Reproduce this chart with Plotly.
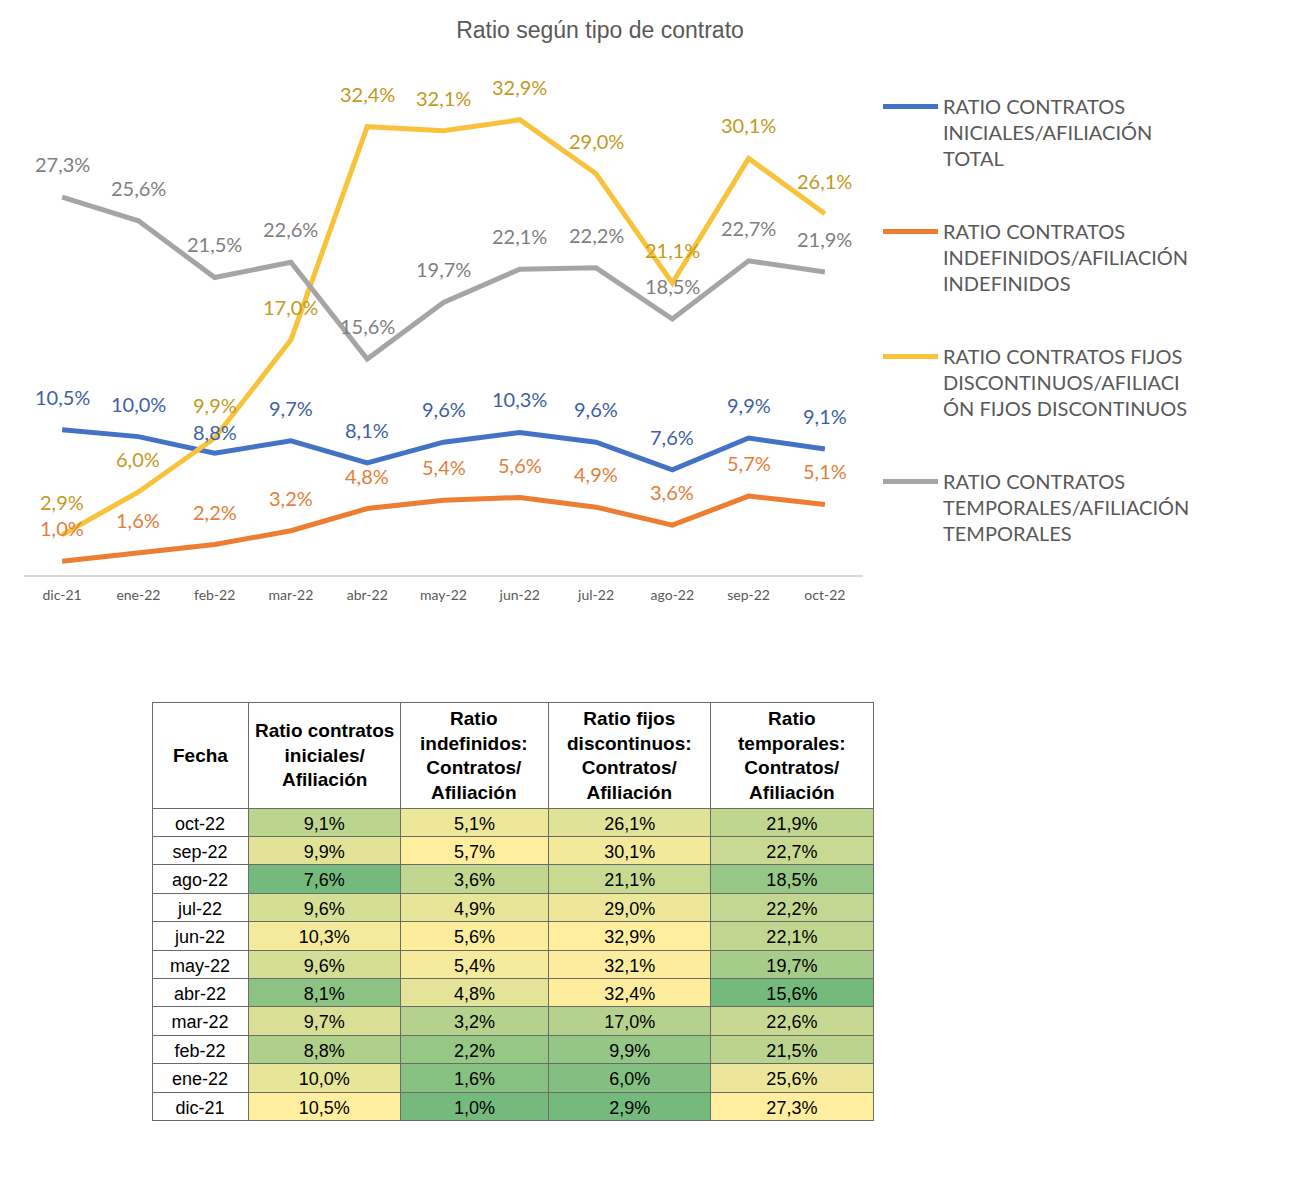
import plotly.graph_objects as go

W, H = 1308, 1186
OFF = 8  # page body margin


def px(x):
    return (x - OFF) / W


def py(y):
    return 1 - (y - OFF) / H


months = ["dic-21", "ene-22", "feb-22", "mar-22", "abr-22", "may-22",
          "jun-22", "jul-22", "ago-22", "sep-22", "oct-22"]
ratio_iniciales = [10.5, 10.0, 8.8, 9.7, 8.1, 9.6, 10.3, 9.6, 7.6, 9.9, 9.1]
ratio_indefinidos = [1.0, 1.6, 2.2, 3.2, 4.8, 5.4, 5.6, 4.9, 3.6, 5.7, 5.1]
ratio_fijos_disc = [2.9, 6.0, 9.9, 17.0, 32.4, 32.1, 32.9, 29.0, 21.1, 30.1, 26.1]
ratio_temporales = [27.3, 25.6, 21.5, 22.6, 15.6, 19.7, 22.1, 22.2, 18.5, 22.7, 21.9]

legend_names = [
    "RATIO CONTRATOS<br>INICIALES/AFILIACIÓN<br>TOTAL",
    "RATIO CONTRATOS<br>INDEFINIDOS/AFILIACIÓN<br>INDEFINIDOS",
    "RATIO CONTRATOS FIJOS<br>DISCONTINUOS/AFILIACI<br>ÓN FIJOS DISCONTINUOS",
    "RATIO CONTRATOS<br>TEMPORALES/AFILIACIÓN<br>TEMPORALES",
]
table_headers = [
    "Fecha",
    "Ratio contratos<br>iniciales/<br>Afiliación",
    "Ratio<br>indefinidos:<br>Contratos/<br>Afiliación",
    "Ratio fijos<br>discontinuos:<br>Contratos/<br>Afiliación",
    "Ratio<br>temporales:<br>Contratos/<br>Afiliación",
]
chart_title = "Ratio según tipo de contrato"

series = [ratio_iniciales, ratio_indefinidos, ratio_fijos_disc, ratio_temporales]
line_colors = ["#4472C4", "#ED7D31", "#F8C33A", "#A5A5A5"]
label_colors = ["#3F5FA6", "#E47E3A", "#C29A22", "#7F7F7F"]
label_shift = {(0, 2): 21}


def fmt(v):
    return f"{v:.1f}".replace(".", ",") + "%"


GREEN = (116, 186, 125)
YELLOW = (255, 238, 158)


def scale_colors(vals):
    lo, hi = min(vals), max(vals)
    out = []
    for v in vals:
        t = (v - lo) / (hi - lo) if hi > lo else 0.5
        c = [round(g + (y - g) * t) for g, y in zip(GREEN, YELLOW)]
        out.append(f"rgb({c[0]},{c[1]},{c[2]})")
    return out


fig = go.Figure()

for i, vals in enumerate(series):
    fig.add_trace(go.Scatter(
        x=months, y=vals, mode="lines", name=legend_names[i],
        legendgroup=f"g{i}",
        line=dict(color=line_colors[i], width=5),
        hoverinfo="skip",
    ))

annotations = []
for i, vals in enumerate(series):
    for j, v in enumerate(vals):
        annotations.append(dict(
            x=months[j], y=v, xref="x", yref="y", text=fmt(v),
            showarrow=False, yshift=label_shift.get((i, j), 33),
            font=dict(family="Lato, Carlito, sans-serif", size=20, color=label_colors[i]),
        ))

# Table (rows from most recent to oldest)
rev = lambda a: list(reversed(a))
cols = [rev(months)] + [[fmt(v) for v in rev(s)] for s in series]
fills = [["white"] * len(months)] + [scale_colors(rev(s)) for s in series]

tbl_left, tbl_right = 152, 873
col_w = [96, 152, 148, 162, 162]
table_font = "Liberation Sans Narrow, Arial Narrow, Liberation Sans, Arial"

fig.add_trace(go.Table(
    domain=dict(x=[px(tbl_left), px(tbl_right)], y=[py(1125), py(702)]),
    columnwidth=col_w,
    header=dict(
        values=["" for _ in table_headers],
        fill_color="white",
        line=dict(color="#6b6b6b", width=1),
        height=106,
    ),
    cells=dict(
        values=cols,
        fill_color=fills,
        line=dict(color="#6b6b6b", width=1),
        align="center", height=28.4,
        font=dict(family=table_font, size=18, color="black"),
    ),
))

# header text, centred in each header cell
scale = (tbl_right - tbl_left) / sum(col_w)
xpos = tbl_left
for h, w in zip(table_headers, col_w):
    cx = xpos + w * scale / 2
    xpos += w * scale
    annotations.append(dict(
        x=px(cx), y=py(755), xref="paper", yref="paper", text=f"<b>{h}</b>",
        showarrow=False, align="center", xanchor="center", yanchor="middle",
        font=dict(family=table_font, size=19, color="black"),
    ))

fig.update_layout(
    width=W, height=H,
    margin=dict(l=0, r=0, t=0, b=0),
    paper_bgcolor="white", plot_bgcolor="white",
    title=dict(text=chart_title, x=px(600), xanchor="center", y=py(30), yanchor="middle",
               font=dict(family="Liberation Sans, Arial", size=23, color="#595959")),
    xaxis=dict(domain=[px(24), px(863)], range=[-0.5, 10.5], showgrid=False,
               showline=True, linecolor="#D9D9D9", linewidth=1.5,
               ticks="outside", ticklen=6, tickcolor="rgba(0,0,0,0)",
               tickfont=dict(family="Lato, Carlito, sans-serif", size=14, color="#595959"),
               fixedrange=True),
    yaxis=dict(domain=[py(575), py(63)], range=[0, 37], visible=False, fixedrange=True),
    showlegend=True,
    legend=dict(x=px(878), xanchor="left", y=py(87), yanchor="top",
                valign="top", tracegroupgap=44, itemwidth=55,
                font=dict(family="Lato, Carlito, sans-serif", size=20, color="#595959"),
                bgcolor="rgba(0,0,0,0)"),
    annotations=annotations,
)

fig.write_html("out.html")
